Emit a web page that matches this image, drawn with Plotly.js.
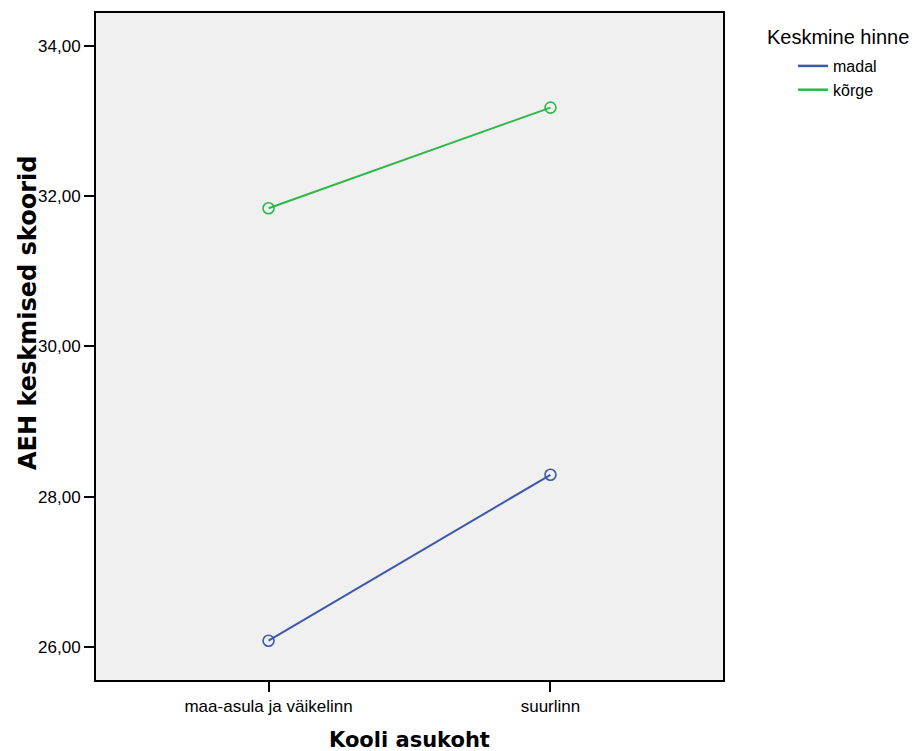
<!DOCTYPE html>
<html><head><meta charset="utf-8">
<script src="https://cdn.plot.ly/plotly-3.0.1.min.js"></script>
<style>html,body{margin:0;padding:0;background:#fff}</style>
</head><body><div id="chart" style="width:915px;height:751px"></div>
<script>
const categories = ["maa-asula ja väikelinn", "suurlinn"];
const seriesNames = ["madal", "kõrge"];
const madalValues = [26.08, 28.29];
const korgeValues = [31.84, 33.18];
const seriesColors = ["#3e58ac", "#2eb848"];
const yTickValues = [26, 28, 30, 32, 34];
const yTickLabels = ["26,00", "28,00", "30,00", "32,00", "34,00"];
const xTitle = "Kooli asukoht";
const yTitle = "AEH keskmised skoorid";
const legendTitle = "Keskmine hinne";

const ML = 96, MR = 192, MT = 13, MB = 71;
const W = 915, H = 751;
const PW = W - ML - MR, PH = H - MT - MB;

const seriesValues = [madalValues, korgeValues];
const traces = [];
seriesValues.forEach((vals, i) => {
  traces.push({
    type: "scatter",
    mode: "lines+markers",
    name: seriesNames[i],
    x: categories,
    y: vals,
    showlegend: false,
    line: {color: seriesColors[i], width: 2},
    marker: {symbol: "circle-open", size: 11, color: seriesColors[i], line: {width: 1.6, color: seriesColors[i]}}
  });
});
// legend entries (line only, as in the reference)
seriesNames.forEach((name, i) => {
  traces.push({
    type: "scatter", mode: "lines", name: name,
    x: [null], y: [null], showlegend: true,
    line: {color: seriesColors[i], width: 2.5}
  });
});

const font = "Liberation Sans, Arial, sans-serif";
const layout = {
  width: W, height: H,
  margin: {l: ML, r: MR, t: MT, b: MB, pad: 0},
  paper_bgcolor: "#ffffff",
  plot_bgcolor: "#f0f0f0",
  font: {family: font, color: "#000", size: 17},
  showlegend: true,
  legend: {
    x: (793 - ML) / PW, xanchor: "left",
    y: (MT + PH - 49) / PH, yanchor: "top",
    bgcolor: "rgba(0,0,0,0)",
    font: {family: font, size: 16, color: "#000"},
    tracegroupgap: 0
  },
  xaxis: {
    type: "category",
    range: [-0.612, 1.612],
    showgrid: false, zeroline: false,
    showline: true, linecolor: "#000", linewidth: 2, mirror: true,
    ticks: "outside", ticklen: 10, tickwidth: 2, tickcolor: "#000",
    tickfont: {family: font, size: 17, color: "#000"}
  },
  yaxis: {
    range: [25.557, 34.44],
    tickvals: yTickValues, ticktext: yTickLabels,
    showgrid: false, zeroline: false,
    showline: true, linecolor: "#000", linewidth: 2, mirror: true,
    ticks: "outside", ticklen: 10, tickwidth: 2, tickcolor: "#000",
    tickfont: {family: font, size: 17, color: "#000"}
  },
  annotations: [
    {text: xTitle, xref: "paper", yref: "paper", x: 0.5, y: -(740 - (MT + PH)) / PH,
     xanchor: "center", yanchor: "middle", showarrow: false,
     font: {family: "DejaVu Sans, sans-serif", size: 21, color: "#000", weight: "bold"}},
    {text: yTitle, xref: "paper", yref: "paper", x: (28 - ML) / PW, y: (MT + PH - 313) / PH,
     xanchor: "center", yanchor: "middle", textangle: -90, showarrow: false,
     font: {family: "DejaVu Sans, sans-serif", size: 24, color: "#000", weight: "bold"}},
    {text: legendTitle, xref: "paper", yref: "paper", x: (765 - ML) / PW, y: (MT + PH - 37) / PH,
     xanchor: "left", yanchor: "middle", showarrow: false,
     font: {family: font, size: 20, color: "#000"}}
  ]
};

Plotly.newPlot("chart", traces, layout, {displayModeBar: false, staticPlot: true});
</script></body></html>
